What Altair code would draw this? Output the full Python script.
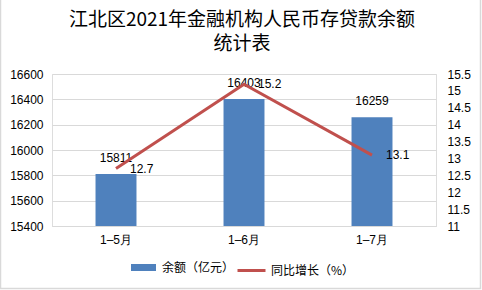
import altair as alt
import pandas as pd

months = ["1–5月", "1–6月", "1–7月"]
balance = [15811, 16403, 16259]
growth = [12.7, 15.2, 13.1]
left_ticks = [15400, 15600, 15800, 16000, 16200, 16400, 16600]
right_ticks = [11, 11.5, 12, 12.5, 13, 13.5, 14, 14.5, 15, 15.5]
bar_name = "余额（亿元）"
line_name = "同比增长（%）"
title_lines = ["江北区2021年金融机构人民币存贷款余额", "统计表"]

df = pd.DataFrame({"month": months, "balance": balance, "growth": growth,
                   "s1": bar_name, "s2": line_name})

FONT = "Liberation Sans"
x = alt.X("month:N", sort=months, title=None,
          scale=alt.Scale(paddingInner=0.68, paddingOuter=0.34),
          axis=alt.Axis(labelAngle=0, labelFont=FONT, labelFontSize=12, labelColor="#000",
                        ticks=False, domainColor="#d9d9d9", labelPadding=8))

yl_scale = alt.Scale(domain=[15400, 16600], zero=False, nice=False)
yr_scale = alt.Scale(domain=[11, 15.5], zero=False, nice=False)
yl_axis = alt.Axis(values=left_ticks, format="d", grid=True, gridColor="#d9d9d9",
                   domain=False, ticks=False, labelFont=FONT, labelFontSize=12,
                   labelColor="#000", labelPadding=9, labelOverlap=False)
yr_axis = alt.Axis(orient="right", values=right_ticks, format="~g", grid=False, domain=False,
                   ticks=False, labelFont=FONT, labelFontSize=12, labelColor="#000",
                   labelPadding=11, labelOverlap=False)

base = alt.Chart(df)

bars = base.mark_bar(color="#4f81bd", clip=True).encode(
    x=x,
    y=alt.Y("balance:Q", scale=yl_scale, title=None, axis=yl_axis),
    color=alt.Color("s1:N", scale=alt.Scale(range=["#4f81bd"]),
                    legend=alt.Legend(title=None, orient="none", legendX=79, legendY=181,
                                      symbolType="M-1,-0.28H1V0.28H-1Z", symbolSize=625,
                                      symbolStrokeWidth=0, labelOffset=6,
                                      labelFont="Noto Sans CJK SC",
                                      labelFontSize=12, labelColor="#000")),
)
bar_text = base.mark_text(baseline="bottom", dy=-9, font=FONT, fontSize=12, color="#000").encode(
    x=x, y=alt.Y("balance:Q", scale=yl_scale, title=None, axis=yl_axis), text="balance:Q")

line = base.mark_line(strokeWidth=3).encode(
    x=x, y=alt.Y("growth:Q", scale=yr_scale, title=None, axis=yr_axis),
    stroke=alt.Stroke("s2:N", scale=alt.Scale(range=["#c0504d"]),
                      legend=alt.Legend(title=None, orient="none", legendX=184, legendY=181,
                                        symbolType="stroke", symbolSize=784,
                                        symbolStrokeWidth=3, labelOffset=4,
                                        labelFont="Noto Sans CJK SC",
                                        labelFontSize=12, labelColor="#000")),
)
line_text = base.mark_text(align="left", baseline="middle", dx=14, font=FONT, fontSize=12,
                           color="#000").encode(
    x=x, y=alt.Y("growth:Q", scale=yr_scale, title=None, axis=yr_axis), text="growth:Q")

frame = alt.Chart(pd.DataFrame({"a": [0]})).mark_rect(
    fill=None, stroke="#d9d9d9", strokeWidth=1.5).encode(
    x=alt.value(-51.5), x2=alt.value(428.5), y=alt.value(-76), y2=alt.value(214.5))

left = alt.layer(bars, bar_text)
right = alt.layer(line, line_text)

chart = alt.layer(left, right, frame).resolve_scale(y="independent").properties(
    width=384, height=152,
    title=alt.Title(title_lines, font="Noto Sans CJK SC", fontSize=19, fontWeight="normal",
                    color="#000", anchor="middle", offset=14, dy=71, dx=-2, lineHeight=24),
    padding={"left": 52, "top": 74, "right": 46, "bottom": 64},
    autosize=alt.AutoSizeParams(type="none"),
).configure_view(stroke=None).configure(background="white")

chart.save("out.html", embed_options={"renderer": "svg", "actions": False})
